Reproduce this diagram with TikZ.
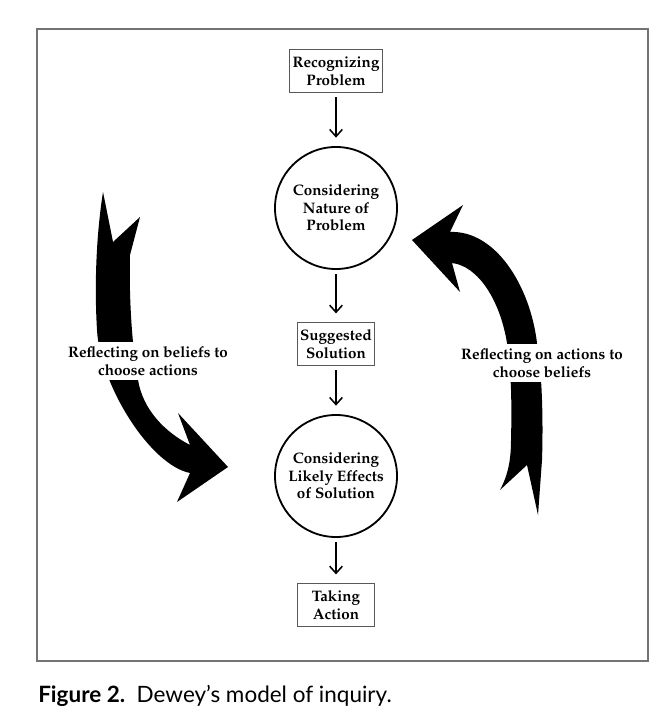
\documentclass[tikz,border=0pt]{standalone}
\usepackage{fontspec}
\usepackage[T1,TU]{fontenc}
\newfontfamily\capfont{Lato}
\usetikzlibrary{arrows.meta}
\newcommand{\palbold}{\usefont{T1}{ppl}{b}{n}\fontsize{10.8}{12.5}\selectfont}
\tikzset{
    stepbox/.style={draw=black!65, line width=0.8pt, align=center, font=\palbold,
        inner xsep=2pt, inner ysep=3pt, minimum width=1.93cm, minimum height=1.08cm}, % the small boxes
    stage/.style={circle, draw, line width=1.3pt, minimum size=3.05cm, align=center, font=\palbold}, % the two circles
    flow/.style={-{Straight Barb[length=5pt,width=9pt]}, line width=1.1pt, shorten <=3pt, shorten >=6pt}, % the straight arrows
    note/.style={fill=white, align=center, font=\palbold, inner xsep=1pt, inner ysep=3.5pt}, % texts across the big arrows
}
\begin{document}
\begin{tikzpicture}[x=0.025cm, y=-0.025cm]
\useasboundingbox (0,0) rectangle (671,720);
\draw[black!55, line width=1.2pt] (37,29) rectangle (648,661);

% the steps of inquiry
\node[stepbox] (recog) at (336,71) {Recognizing\\Problem};
\node[stage] (nature) at (336,208) {Considering\\Nature of\\Problem};
\node[stepbox] (suggest) at (336,344) {Suggested\\Solution};
\node[stage] (effects) at (336,476) {Considering\\Likely Effects\\of Solution};
\node[stepbox] (action) at (336,605) {Taking\\Action};

\draw[flow] (recog) -- (nature);
\draw[flow] (nature) -- (suggest);
\draw[flow] (suggest) -- (effects);
\draw[flow] (effects) -- (action);

% big arrow on the left
\fill (103,192) .. controls (97,230) and (94,280) .. (97,330)
    .. controls (100,385) and (150,465) .. (190,473)
    -- (177,502) -- (228,467) -- (178,413) -- (190,445)
    .. controls (165,432) and (143,410) .. (138,380)
    .. controls (131,340) and (129,290) .. (130,255)
    -- (140,217) -- (113,242) -- cycle;
% big arrow on the right
\fill (500,490) .. controls (508,475) and (511,460) .. (511,440)
    .. controls (512,400) and (511,370) .. (507,343)
    .. controls (500,300) and (478,266) .. (452,263)
    -- (460,292) -- (412,240) -- (463,205) -- (450,232)
    .. controls (495,230) and (530,285) .. (537,343)
    .. controls (543,380) and (543,430) .. (542,460)
    -- (538,515) -- (527,465) -- cycle;

\node[note] (beliefs) at (148,361) {Reflecting on beliefs to\\choose actions};
\node[note] (actions) at (542,363) {Reflecting on actions to\\choose beliefs};

\node[anchor=base west, inner sep=0pt, font=\capfont\fontsize{16}{19}\selectfont] (caption) at (38,702)
    {\textbf{Figure 2.}\ \ Dewey’s model of inquiry.};
\end{tikzpicture}
\end{document}
